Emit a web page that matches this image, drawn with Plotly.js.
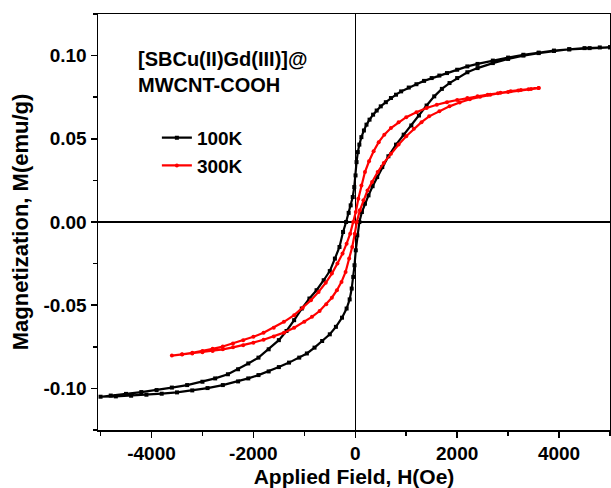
<!DOCTYPE html>
<html>
<head>
<meta charset="utf-8">
<script src="https://cdn.plot.ly/plotly-3.0.1.min.js"></script>
<style>html,body{margin:0;padding:0;background:#fff;}#chart{width:611px;height:488px;}</style>
</head>
<body>
<div id="chart"></div>
<script>
// 100K loop: descending branch then ascending branch
const field100 = [5000, 4600, 4200, 3900, 3600, 3300, 3000, 2700, 2400, 2200, 2000, 1800, 1650, 1500, 1350, 1200, 1050, 900, 800, 700, 600, 500, 420, 350, 280, 220, 170, 120, 80, 50, 25, 5, -20, -50, -90, -130, -180, -240, -310, -400, -500, -620, -760, -900, -1050, -1200, -1350, -1500, -1700, -1900, -2100, -2300, -2500, -2750, -3000, -3300, -3600, -3900, -4200, -4500, -4800, -5000,
  -4700, -4400, -4100, -3800, -3500, -3200, -2900, -2600, -2300, -2100, -1900, -1700, -1500, -1300, -1100, -950, -800, -650, -500, -380, -260, -170, -110, -70, -40, -15, 10, 40, 80, 130, 190, 260, 340, 430, 530, 650, 800, 950, 1100, 1250, 1400, 1550, 1700, 1850, 2000, 2200, 2400, 2700, 3000, 3300, 3600, 3900, 4200, 4500, 4800, 5000];
const mag100 = [0.1050, 0.1045, 0.1038, 0.1030, 0.1018, 0.1005, 0.0988, 0.0970, 0.0950, 0.0935, 0.0915, 0.0895, 0.0880, 0.0865, 0.0848, 0.0828, 0.0808, 0.0785, 0.0765, 0.0745, 0.0720, 0.0695, 0.0670, 0.0645, 0.0615, 0.0585, 0.0550, 0.0510, 0.0465, 0.0420, 0.0360, 0.0280, 0.0210, 0.0150, 0.0100, 0.0055, 0.0000, -0.0060, -0.0150, -0.0220, -0.0295, -0.0350, -0.0410, -0.0460, -0.0520, -0.0590, -0.0655, -0.0710, -0.0765, -0.0815, -0.0850, -0.0885, -0.0915, -0.0940, -0.0960, -0.0980, -0.0995, -0.1010, -0.1022, -0.1033, -0.1043, -0.1050,
  -0.1048, -0.1044, -0.1038, -0.1032, -0.1024, -0.1012, -0.0998, -0.0980, -0.0958, -0.0940, -0.0920, -0.0898, -0.0872, -0.0845, -0.0815, -0.0790, -0.0755, -0.0715, -0.0675, -0.0630, -0.0575, -0.0520, -0.0465, -0.0400, -0.0330, -0.0260, -0.0170, -0.0080, 0.0000, 0.0060, 0.0110, 0.0160, 0.0215, 0.0270, 0.0330, 0.0395, 0.0465, 0.0525, 0.0580, 0.0640, 0.0700, 0.0755, 0.0800, 0.0835, 0.0865, 0.0900, 0.0925, 0.0955, 0.0980, 0.1000, 0.1015, 0.1028, 0.1038, 0.1045, 0.1049, 0.1050];

// 300K loop: descending branch then ascending branch
const field300 = [3600, 3400, 3200, 3000, 2800, 2600, 2400, 2200, 2000, 1800, 1600, 1400, 1200, 1000, 850, 700, 570, 460, 360, 270, 190, 120, 60, 10, -40, -100, -170, -250, -350, -460, -580, -720, -870, -1030, -1200, -1400, -1600, -1800, -2000, -2200, -2400, -2600, -2800, -3000, -3200, -3400, -3600,
  -3400, -3200, -3000, -2800, -2600, -2400, -2200, -2000, -1800, -1600, -1400, -1200, -1000, -850, -700, -570, -460, -360, -270, -190, -120, -60, -10, 30, 90, 160, 240, 330, 440, 560, 700, 850, 1000, 1150, 1300, 1450, 1650, 1850, 2050, 2250, 2450, 2650, 2850, 3050, 3250, 3450, 3600];
const mag300 = [0.0805, 0.0798, 0.0790, 0.0782, 0.0773, 0.0765, 0.0755, 0.0745, 0.0733, 0.0720, 0.0705, 0.0685, 0.0660, 0.0630, 0.0600, 0.0565, 0.0525, 0.0480, 0.0425, 0.0365, 0.0300, 0.0220, 0.0140, 0.0060, 0.0000, -0.0070, -0.0130, -0.0190, -0.0250, -0.0310, -0.0365, -0.0420, -0.0470, -0.0515, -0.0560, -0.0600, -0.0635, -0.0665, -0.0690, -0.0710, -0.0730, -0.0748, -0.0762, -0.0775, -0.0786, -0.0795, -0.0803,
  -0.0797, -0.0790, -0.0783, -0.0775, -0.0765, -0.0753, -0.0740, -0.0725, -0.0708, -0.0688, -0.0665, -0.0635, -0.0600, -0.0570, -0.0535, -0.0495, -0.0455, -0.0410, -0.0360, -0.0300, -0.0220, -0.0150, -0.0070, 0.0000, 0.0070, 0.0130, 0.0190, 0.0240, 0.0300, 0.0355, 0.0410, 0.0465, 0.0515, 0.0560, 0.0600, 0.0635, 0.0665, 0.0695, 0.0718, 0.0738, 0.0752, 0.0765, 0.0776, 0.0786, 0.0794, 0.0800, 0.0805];

const seriesNames = ["100K", "300K"];
const sampleLines = ["[SBCu(II)Gd(III)]@", "MWCNT-COOH"];
const xTitle = "Applied Field, H(Oe)";
const yTitle = "Magnetization, M(emu/g)";
const xTickVals = [-4000, -2000, 0, 2000, 4000];
const xTickText = ["-4000", "-2000", "0", "2000", "4000"];
const yTickVals = [-0.10, -0.05, 0.00, 0.05, 0.10];
const yTickText = ["-0.10", "-0.05", "0.00", "0.05", "0.10"];

const FONT = "Arial, 'Liberation Sans', sans-serif";

const traces = [
  {x: field100, y: mag100, name: seriesNames[0], type: "scatter", mode: "lines+markers",
   line: {color: "#000000", width: 2.2}, marker: {symbol: "square", size: 4, color: "#000000"}},
  {x: field300, y: mag300, name: seriesNames[1], type: "scatter", mode: "lines+markers",
   line: {color: "#ff0000", width: 2.2}, marker: {symbol: "circle", size: 4, color: "#ff0000"}}
];

const axisCommon = {
  showline: true, mirror: true, linecolor: "#000", linewidth: 1.5,
  ticks: "outside", ticklen: 6, tickwidth: 1.5, tickcolor: "#000",
  showgrid: false, zeroline: true, zerolinecolor: "#000", zerolinewidth: 1.5,
  tickfont: {family: FONT, size: 19, color: "#000", weight: "bold"},
  automargin: false
};

const layout = {
  width: 611, height: 488,
  margin: {l: 98, r: 1, t: 14, b: 58},
  paper_bgcolor: "#fff", plot_bgcolor: "#fff",
  showlegend: true,
  legend: {x: 0.115, y: 0.748, xanchor: "left", yanchor: "top", bgcolor: "rgba(0,0,0,0)",
           font: {family: FONT, size: 19, color: "#000", weight: "bold"}, tracegroupgap: 0, itemwidth: 30},
  xaxis: Object.assign({}, axisCommon, {
    range: [-5050, 5000], tickmode: "array", tickvals: xTickVals, ticktext: xTickText,
    minor: {ticks: "outside", ticklen: 4, tickwidth: 1.5, tickcolor: "#000", tickmode: "linear", dtick: 1000, tick0: 0, showgrid: false},
    title: {text: xTitle, font: {family: FONT, size: 21, color: "#000", weight: "bold"}, standoff: 12}
  }),
  yaxis: Object.assign({}, axisCommon, {
    range: [-0.125, 0.125], tickmode: "array", tickvals: yTickVals, ticktext: yTickText,
    minor: {ticks: "outside", ticklen: 4, tickwidth: 1.5, tickcolor: "#000", tickmode: "linear", dtick: 0.025, tick0: 0, showgrid: false},
    title: {text: yTitle, font: {family: FONT, size: 22, color: "#000", weight: "bold"}, standoff: 8}
  }),
  annotations: [
    {xref: "paper", yref: "paper", x: 0.074, y: 0.892, xanchor: "left", yanchor: "middle", showarrow: false,
     text: sampleLines[0], font: {family: FONT, size: 20, color: "#000", weight: "bold"}},
    {xref: "paper", yref: "paper", x: 0.074, y: 0.829, xanchor: "left", yanchor: "middle", showarrow: false,
     text: sampleLines[1], font: {family: FONT, size: 20, color: "#000", weight: "bold"}}
  ]
};

Plotly.newPlot("chart", traces, layout, {staticPlot: true, displayModeBar: false});
</script>
</body>
</html>
